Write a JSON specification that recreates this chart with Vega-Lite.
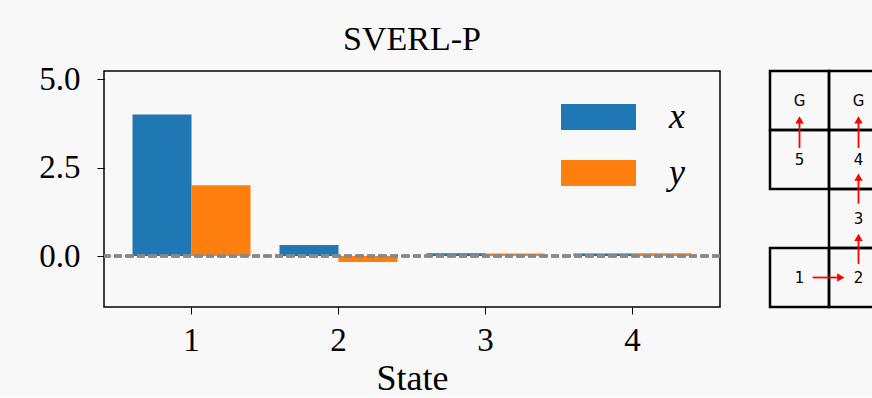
{
  "$schema": "https://vega.github.io/schema/vega-lite/v6.json",
  "background": "#f8f8f8",
  "padding": {"left": 38, "top": 22, "right": 0, "bottom": 0},
  "config": {
    "font": "Liberation Serif",
    "axis": {"labelColor": "black", "titleColor": "black", "tickColor": "black", "domain": false, "grid": false, "titleFontWeight": "normal"}
  },
  "spacing": 45,
  "hconcat": [
    {
      "width": 616,
      "height": 236,
      "title": {"text": "SVERL-P", "fontSize": 34, "font": "Liberation Serif", "fontWeight": "normal", "color": "black", "offset": 6},
      "view": {"stroke": "black", "strokeWidth": 1.5},
      "data": {"values": [
        {"state": "1", "var": "x", "value": 4.0},
        {"state": "1", "var": "y", "value": 2.0},
        {"state": "2", "var": "x", "value": 0.31},
        {"state": "2", "var": "y", "value": -0.17},
        {"state": "3", "var": "x", "value": 0.08},
        {"state": "3", "var": "y", "value": 0.07},
        {"state": "4", "var": "x", "value": 0.07},
        {"state": "4", "var": "y", "value": 0.08}
      ]},
      "layer": [
        {
          "mark": {"type": "bar"},
          "encoding": {
            "x": {"field": "state", "type": "ordinal", "scale": {"paddingInner": 0.197, "paddingOuter": 0.194},
                  "axis": {"title": "State", "labelAngle": 0, "labelFontSize": 33, "titleFontSize": 36, "tickSize": 7, "labelPadding": 10, "titlePadding": 4}},
            "xOffset": {"field": "var", "sort": ["x", "y"]},
            "y": {"field": "value", "type": "quantitative", "scale": {"domain": [-1.44, 5.23], "nice": false, "zero": false},
                  "axis": {"title": null, "values": [0, 2.5, 5], "format": ".1f", "labelFontSize": 33, "tickSize": 7, "labelPadding": 17}},
            "color": {"field": "var", "type": "nominal", "scale": {"domain": ["x", "y"], "range": ["#1f77b4", "#ff7f0e"]},
                      "legend": {"orient": "none", "legendX": 457, "legendY": 8.5, "title": null,
                                 "symbolType": "M-1,-0.347L1,-0.347L1,0.347L-1,0.347Z", "symbolSize": 5625, "symbolStrokeWidth": 0,
                                 "labelFont": "Liberation Serif", "labelFontStyle": "italic", "labelFontSize": 36, "labelColor": "black",
                                 "labelOffset": 33, "rowPadding": -30}}
          }
        },
        {
          "mark": {"type": "rule", "color": "#888888", "strokeDash": [8, 3.5], "strokeWidth": 2.6},
          "encoding": {"y": {"datum": 0}}
        }
      ]
    },
    {
      "width": 118,
      "height": 236,
      "view": {"stroke": null},
      "layer": [
        {
          "data": {"values": [
            {"x0": 0, "x1": 1, "y0": 0, "y1": 1},
            {"x0": 1, "x1": 2, "y0": 0, "y1": 1},
            {"x0": 0, "x1": 1, "y0": 1, "y1": 2},
            {"x0": 1, "x1": 2, "y0": 1, "y1": 2},
            {"x0": 1, "x1": 2, "y0": 2, "y1": 3},
            {"x0": 0, "x1": 1, "y0": 3, "y1": 4},
            {"x0": 1, "x1": 2, "y0": 3, "y1": 4}
          ]},
          "mark": {"type": "rect", "fillOpacity": 0, "stroke": "black", "strokeWidth": 2.5},
          "encoding": {
            "x": {"field": "x0", "type": "quantitative", "scale": {"domain": [0, 2]}, "axis": null},
            "x2": {"field": "x1"},
            "y": {"field": "y0", "type": "quantitative", "scale": {"domain": [0, 4], "reverse": true}, "axis": null},
            "y2": {"field": "y1"}
          }
        },
        {
          "data": {"values": [
            {"cx": 0.5, "cy": 0.5, "label": "G"},
            {"cx": 1.5, "cy": 0.5, "label": "G"},
            {"cx": 0.5, "cy": 1.5, "label": "5"},
            {"cx": 1.5, "cy": 1.5, "label": "4"},
            {"cx": 1.5, "cy": 2.5, "label": "3"},
            {"cx": 0.5, "cy": 3.5, "label": "1"},
            {"cx": 1.5, "cy": 3.5, "label": "2"}
          ]},
          "mark": {"type": "text", "font": "DejaVu Sans", "fontSize": 15, "color": "black", "baseline": "middle", "align": "center"},
          "encoding": {
            "x": {"field": "cx", "type": "quantitative", "scale": {"domain": [0, 2]}, "axis": null},
            "y": {"field": "cy", "type": "quantitative", "scale": {"domain": [0, 4], "reverse": true}, "axis": null},
            "text": {"field": "label"}
          }
        },
        {
          "data": {"values": [
            {"ax": 0.5, "ay": 1.305, "bx": 0.5, "by": 0.86},
            {"ax": 1.5, "ay": 1.305, "bx": 1.5, "by": 0.86},
            {"ax": 1.5, "ay": 2.25, "bx": 1.5, "by": 1.83},
            {"ax": 1.5, "ay": 3.27, "bx": 1.5, "by": 2.85},
            {"ax": 0.724, "ay": 3.5, "bx": 1.17, "by": 3.5}
          ]},
          "mark": {"type": "rule", "color": "#ff0000", "strokeWidth": 1.8},
          "encoding": {
            "x": {"field": "ax", "type": "quantitative", "scale": {"domain": [0, 2]}, "axis": null},
            "x2": {"field": "bx"},
            "y": {"field": "ay", "type": "quantitative", "scale": {"domain": [0, 4], "reverse": true}, "axis": null},
            "y2": {"field": "by"}
          }
        },
        {
          "data": {"values": [
            {"hx": 0.5, "hy": 0.83, "dir": "triangle-up"},
            {"hx": 1.5, "hy": 0.83, "dir": "triangle-up"},
            {"hx": 1.5, "hy": 1.8, "dir": "triangle-up"},
            {"hx": 1.5, "hy": 2.82, "dir": "triangle-up"},
            {"hx": 1.2, "hy": 3.5, "dir": "triangle-right"}
          ]},
          "mark": {"type": "point", "filled": true, "color": "#ff0000", "opacity": 1, "size": 70},
          "encoding": {
            "x": {"field": "hx", "type": "quantitative", "scale": {"domain": [0, 2]}, "axis": null},
            "y": {"field": "hy", "type": "quantitative", "scale": {"domain": [0, 4], "reverse": true}, "axis": null},
            "shape": {"field": "dir", "type": "nominal", "scale": null, "legend": null}
          }
        }
      ]
    }
  ]
}
